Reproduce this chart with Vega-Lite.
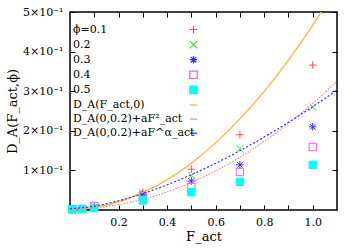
{
  "$schema": "https://vega.github.io/schema/vega-lite/v6.json",
  "autosize": "none",
  "padding": {"left": 70, "top": 12, "right": 17, "bottom": 38},
  "width": 267,
  "height": 198,
  "datasets": {
    "pts": [
      {"F": 0.01, "D": 0.002, "series": "s1"}, {"F": 0.05, "D": 0.003, "series": "s1"}, {"F": 0.1, "D": 0.008, "series": "s1"}, {"F": 0.3, "D": 0.045, "series": "s1"}, {"F": 0.5, "D": 0.103, "series": "s1"}, {"F": 0.7, "D": 0.19, "series": "s1"}, {"F": 1.0, "D": 0.366, "series": "s1"},
      {"F": 0.01, "D": 0.002, "series": "s2"}, {"F": 0.05, "D": 0.003, "series": "s2"}, {"F": 0.1, "D": 0.008, "series": "s2"}, {"F": 0.3, "D": 0.043, "series": "s2"}, {"F": 0.5, "D": 0.087, "series": "s2"}, {"F": 0.7, "D": 0.155, "series": "s2"}, {"F": 1.0, "D": 0.26, "series": "s2"},
      {"F": 0.01, "D": 0.002, "series": "s3"}, {"F": 0.05, "D": 0.003, "series": "s3"}, {"F": 0.1, "D": 0.007, "series": "s3"}, {"F": 0.3, "D": 0.04, "series": "s3"}, {"F": 0.5, "D": 0.073, "series": "s3"}, {"F": 0.7, "D": 0.114, "series": "s3"}, {"F": 1.0, "D": 0.21, "series": "s3"},
      {"F": 0.01, "D": 0.002, "series": "s4"}, {"F": 0.05, "D": 0.003, "series": "s4"}, {"F": 0.1, "D": 0.01, "series": "s4"}, {"F": 0.3, "D": 0.036, "series": "s4"}, {"F": 0.5, "D": 0.058, "series": "s4"}, {"F": 0.7, "D": 0.096, "series": "s4"}, {"F": 1.0, "D": 0.159, "series": "s4"},
      {"F": 0.01, "D": 0.001, "series": "s5"}, {"F": 0.05, "D": 0.002, "series": "s5"}, {"F": 0.1, "D": 0.005, "series": "s5"}, {"F": 0.3, "D": 0.024, "series": "s5"}, {"F": 0.5, "D": 0.045, "series": "s5"}, {"F": 0.7, "D": 0.071, "series": "s5"}, {"F": 1.0, "D": 0.114, "series": "s5"}
    ],
    "curves": [
      {"F": 0, "D": 0.002, "series": "s6"}, {"F": 0.1, "D": 0.0067, "series": "s6"}, {"F": 0.2, "D": 0.0206, "series": "s6"}, {"F": 0.3, "D": 0.0439, "series": "s6"}, {"F": 0.4, "D": 0.0764, "series": "s6"}, {"F": 0.5, "D": 0.1183, "series": "s6"}, {"F": 0.6, "D": 0.1694, "series": "s6"}, {"F": 0.7, "D": 0.2299, "series": "s6"}, {"F": 0.8, "D": 0.2996, "series": "s6"}, {"F": 0.9, "D": 0.3787, "series": "s6"}, {"F": 1.0, "D": 0.467, "series": "s6"}, {"F": 1.05, "D": 0.515, "series": "s6"},
      {"F": 0, "D": 0.003, "series": "s7"}, {"F": 0.1, "D": 0.0057, "series": "s7"}, {"F": 0.2, "D": 0.0136, "series": "s7"}, {"F": 0.3, "D": 0.0269, "series": "s7"}, {"F": 0.4, "D": 0.0456, "series": "s7"}, {"F": 0.5, "D": 0.0695, "series": "s7"}, {"F": 0.6, "D": 0.0988, "series": "s7"}, {"F": 0.7, "D": 0.1333, "series": "s7"}, {"F": 0.8, "D": 0.1732, "series": "s7"}, {"F": 0.9, "D": 0.2185, "series": "s7"}, {"F": 1.0, "D": 0.269, "series": "s7"}, {"F": 1.1, "D": 0.3249, "series": "s7"},
      {"F": 0, "D": 0.003, "series": "s8"}, {"F": 0.1, "D": 0.0098, "series": "s8"}, {"F": 0.2, "D": 0.0233, "series": "s8"}, {"F": 0.3, "D": 0.0415, "series": "s8"}, {"F": 0.4, "D": 0.0636, "series": "s8"}, {"F": 0.5, "D": 0.0893, "series": "s8"}, {"F": 0.6, "D": 0.118, "series": "s8"}, {"F": 0.7, "D": 0.1498, "series": "s8"}, {"F": 0.8, "D": 0.1843, "series": "s8"}, {"F": 0.9, "D": 0.2214, "series": "s8"}, {"F": 1.0, "D": 0.261, "series": "s8"}, {"F": 1.1, "D": 0.303, "series": "s8"}
    ]
  },
  "layer": [
    {
      "data": {"name": "pts"},
      "mark": {"type": "point", "filled": false, "strokeWidth": 1, "size": 55, "opacity": 1},
      "encoding": {
        "x": {
          "field": "F", "type": "quantitative",
          "scale": {"domain": [0, 1.1], "nice": false, "zero": false},
          "axis": {"orient": "bottom", "values": [0.1, 0.2, 0.3, 0.4, 0.5, 0.6, 0.7, 0.8, 0.9, 1.0],
                   "labelExpr": "round(datum.value*10) % 2 === 0 ? format(datum.value, '.1f') : ''",
                   "title": "F_act", "grid": false, "domain": false, "tickSize": -5, "tickColor": "#000", "tickWidth": 1,
                   "labelPadding": 11, "titlePadding": 3}
        },
        "y": {
          "field": "D", "type": "quantitative",
          "scale": {"domain": [0, 0.5], "nice": false, "zero": false},
          "axis": {"orient": "left", "values": [0.1, 0.2, 0.3, 0.4, 0.5],
                   "labelExpr": "format(datum.value*10, '.0f') + '×10⁻¹'",
                   "title": "D_A(F_act,ϕ)", "grid": false, "domain": false, "tickSize": -5, "tickColor": "#000", "tickWidth": 1,
                   "labelPadding": 12, "titlePadding": 3}
        },
        "stroke": {
          "field": "series", "type": "nominal",
          "scale": {"domain": ["s1", "s2", "s3", "s4", "s5", "s6", "s7", "s8"],
                    "range": ["#ff5050", "#40e040", "#3030ff", "#ff50ff", "#00ffff", "#ffb030", "#ff8080", "#3030ff"]},
          "legend": {
            "orient": "none", "legendX": 118, "legendY": 12, "padding": 0, "rowPadding": 2.1, "title": null,
            "labelFont": "DejaVu Serif", "labelFontSize": 11, "labelColor": "#000", "labelAlign": "left", "labelOffset": -126, "labelLimit": 200,
            "symbolSize": 55, "symbolStrokeWidth": 1.2,
            "labelExpr": "['ϕ=0.1', '0.2', '0.3', '0.4', '0.5', 'D_A(F_act,0)', 'D_A(0,0.2)+aF²_act', 'D_A(0,0.2)+aF^α_act'][indexof(['s1','s2','s3','s4','s5','s6','s7','s8'], datum.value)]",
            "encode": {
              "symbols": {"update": {
                "strokeDash": {"signal": "datum.value === 's7' ? [1.5, 1.5] : datum.value === 's8' ? [2, 2] : [1, 0]"},
                "size": {"signal": "indexof(['s6','s7','s8'], datum.value) >= 0 ? 625 : 55"}
              }},
              "labels": {"update": {
                "dx": {"signal": "(datum.value === 's2' || datum.value === 's3' || datum.value === 's4' || datum.value === 's5') ? 19 : 0"}
              }}
            }
          }
        },
        "fill": {
          "field": "series", "type": "nominal",
          "scale": {"domain": ["s1", "s2", "s3", "s4", "s5", "s6", "s7", "s8"],
                    "range": ["transparent", "transparent", "transparent", "transparent", "#00ffff", "transparent", "transparent", "transparent"]},
          "legend": {
            "orient": "none", "legendX": 118, "legendY": 12, "padding": 0, "rowPadding": 2.1, "title": null,
            "labelFont": "DejaVu Serif", "labelFontSize": 11, "labelColor": "#000", "labelAlign": "left", "labelOffset": -126, "labelLimit": 200,
            "symbolSize": 55, "symbolStrokeWidth": 1.2,
            "labelExpr": "['ϕ=0.1', '0.2', '0.3', '0.4', '0.5', 'D_A(F_act,0)', 'D_A(0,0.2)+aF²_act', 'D_A(0,0.2)+aF^α_act'][indexof(['s1','s2','s3','s4','s5','s6','s7','s8'], datum.value)]",
            "encode": {
              "symbols": {"update": {
                "strokeDash": {"signal": "datum.value === 's7' ? [1.5, 1.5] : datum.value === 's8' ? [2, 2] : [1, 0]"},
                "size": {"signal": "indexof(['s6','s7','s8'], datum.value) >= 0 ? 625 : 55"}
              }},
              "labels": {"update": {
                "dx": {"signal": "(datum.value === 's2' || datum.value === 's3' || datum.value === 's4' || datum.value === 's5') ? 19 : 0"}
              }}
            }
          }
        },
        "shape": {
          "field": "series", "type": "nominal",
          "scale": {"domain": ["s1", "s2", "s3", "s4", "s5", "s6", "s7", "s8"],
                    "range": ["M-1,0H1M0,-1V1", "M-1,-1L1,1M1,-1L-1,1", "M-1,0H1M0,-1V1M-0.75,-0.75L0.75,0.75M0.75,-0.75L-0.75,0.75", "square", "square", "stroke", "stroke", "stroke"]},
          "legend": {
            "orient": "none", "legendX": 118, "legendY": 12, "padding": 0, "rowPadding": 2.1, "title": null,
            "labelFont": "DejaVu Serif", "labelFontSize": 11, "labelColor": "#000", "labelAlign": "left", "labelOffset": -126, "labelLimit": 200,
            "symbolSize": 55, "symbolStrokeWidth": 1.2,
            "labelExpr": "['ϕ=0.1', '0.2', '0.3', '0.4', '0.5', 'D_A(F_act,0)', 'D_A(0,0.2)+aF²_act', 'D_A(0,0.2)+aF^α_act'][indexof(['s1','s2','s3','s4','s5','s6','s7','s8'], datum.value)]",
            "encode": {
              "symbols": {"update": {
                "strokeDash": {"signal": "datum.value === 's7' ? [1.5, 1.5] : datum.value === 's8' ? [2, 2] : [1, 0]"},
                "size": {"signal": "indexof(['s6','s7','s8'], datum.value) >= 0 ? 625 : 55"}
              }},
              "labels": {"update": {
                "dx": {"signal": "(datum.value === 's2' || datum.value === 's3' || datum.value === 's4' || datum.value === 's5') ? 19 : 0"}
              }}
            }
          }
        }
      }
    },
    {
      "data": {"name": "curves"},
      "transform": [{"filter": "datum.series === 's6'"}],
      "mark": {"type": "line", "strokeWidth": 1.2, "interpolate": "monotone", "clip": true},
      "encoding": {
        "x": {"field": "F", "type": "quantitative",
              "axis": {"orient": "top", "values": [0.1, 0.2, 0.3, 0.4, 0.5, 0.6, 0.7, 0.8, 0.9, 1.0], "labels": false, "title": null, "grid": false, "domain": false, "tickSize": -5, "tickColor": "#000", "tickWidth": 1}},
        "y": {"field": "D", "type": "quantitative",
              "axis": {"orient": "right", "values": [0.1, 0.2, 0.3, 0.4, 0.5], "labels": false, "title": null, "grid": false, "domain": false, "tickSize": -5, "tickColor": "#000", "tickWidth": 1}},
        "stroke": {"field": "series", "type": "nominal"}
      }
    },
    {
      "data": {"name": "curves"},
      "transform": [{"filter": "datum.series === 's7'"}],
      "mark": {"type": "line", "strokeWidth": 1.2, "strokeDash": [1.5, 1.5], "interpolate": "monotone", "clip": true},
      "encoding": {
        "x": {"field": "F", "type": "quantitative", "axis": null},
        "y": {"field": "D", "type": "quantitative", "axis": null},
        "stroke": {"field": "series", "type": "nominal"}
      }
    },
    {
      "data": {"name": "curves"},
      "transform": [{"filter": "datum.series === 's8'"}],
      "mark": {"type": "line", "strokeWidth": 1.2, "strokeDash": [2, 2], "interpolate": "monotone", "clip": true},
      "encoding": {
        "x": {"field": "F", "type": "quantitative", "axis": null},
        "y": {"field": "D", "type": "quantitative", "axis": null},
        "stroke": {"field": "series", "type": "nominal"}
      }
    }
  ],
  "config": {
    "view": {"stroke": "#000", "strokeWidth": 1.5},
    "axis": {"labelFont": "DejaVu Serif", "labelFontSize": 11, "labelColor": "#000", "titleFont": "DejaVu Serif", "titleFontSize": 13, "titleFontWeight": "normal", "titleColor": "#000"}
  }
}
